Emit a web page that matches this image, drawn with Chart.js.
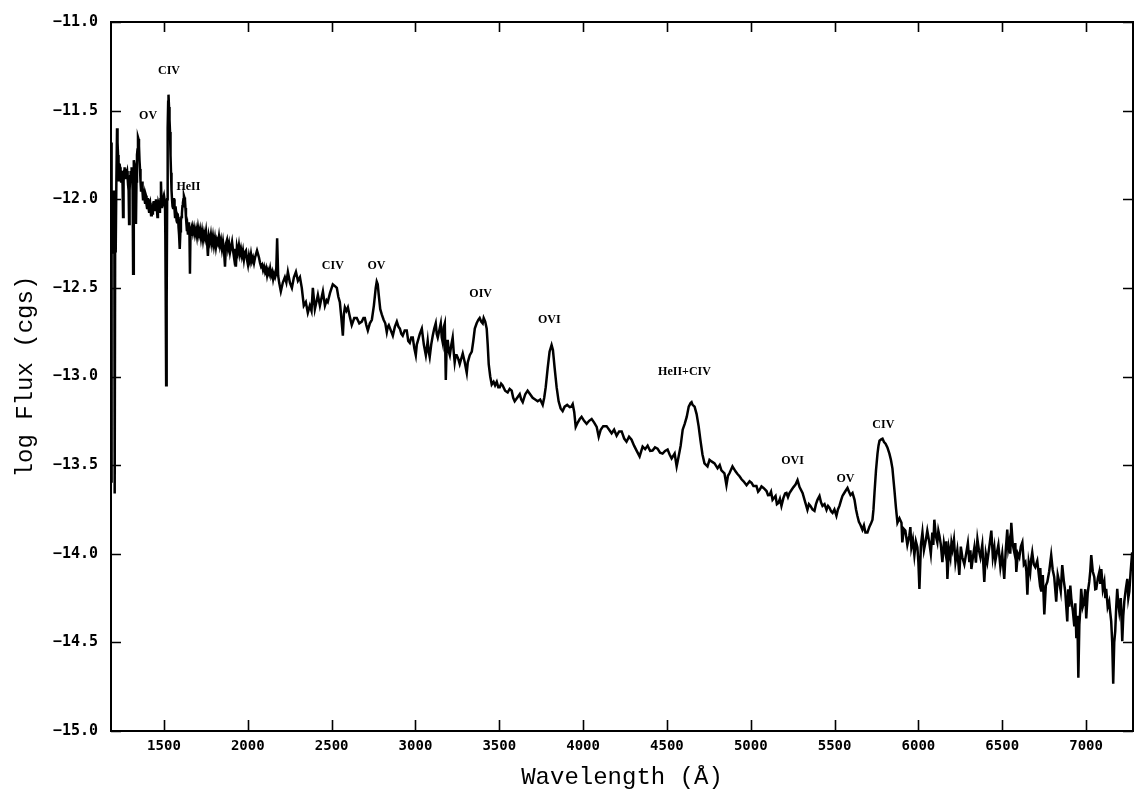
<!DOCTYPE html>
<html><head><meta charset="utf-8">
<script src="https://cdn.jsdelivr.net/npm/chart.js@4"></script>
<style>html,body{margin:0;padding:0;background:#fff}canvas{display:block}</style>
</head><body>
<canvas id="c" width="1134" height="798"></canvas>
<script>
// ---- axes ----
const xRange = [1184, 7280];
const yRange = [-15, -11];
const xTicks = [1500, 2000, 2500, 3000, 3500, 4000, 4500, 5000, 5500, 6000, 6500, 7000];
const yTicks = [-15, -14.5, -14, -13.5, -13, -12.5, -12, -11.5, -11];

// ---- spectrum: [wavelength (Å), log flux] ----
const farUvSpectrum = [
[1184,-11.68],[1186,-13.6],[1189,-12.2],[1193,-12.05],[1197,-12.3],[1201,-11.95],[1204,-12.1],[1206,-13.66],[1209,-12.1],[1212,-12.3],
[1216,-11.9],[1220,-11.6],[1223,-11.68],[1226,-11.75],[1229,-11.9],[1232,-11.85],[1235,-11.8],[1238,-11.82],[1241,-11.88],[1244,-11.9],
[1247,-11.84],[1250,-11.86],[1253,-11.92],[1256,-12.1],[1259,-11.9],[1262,-11.84],[1265,-11.82],[1268,-11.86],[1271,-11.83],[1274,-11.88],
[1277,-11.85],[1280,-11.84],[1283,-11.88],[1286,-11.92],[1289,-11.95],[1292,-12.14],[1295,-11.95],[1298,-11.87],[1301,-11.84],[1304,-11.9],
[1307,-11.82],[1310,-11.85],[1313,-11.95],[1316,-12.42],[1319,-11.9],[1321,-11.78],[1324,-11.8],[1327,-11.85],[1330,-11.92],[1333,-12.14],
[1336,-11.9],[1339,-11.75],[1342,-11.72],[1345,-11.65],[1348,-11.66],[1351,-11.7],[1354,-11.78],[1357,-11.83],[1360,-11.9],[1363,-11.95],
[1366,-11.92],[1369,-11.9],[1372,-11.96],[1375,-12.0],[1378,-11.94],[1381,-11.96],[1384,-12.0],[1387,-12.02],[1390,-11.97],[1393,-11.98],
[1396,-12.03],[1399,-12.05],[1402,-12.0],[1405,-12.0],[1408,-12.05],[1411,-12.07],[1414,-12.03],[1417,-12.02],[1420,-12.06],[1423,-12.09],
[1426,-12.03],[1428,-12.04],[1431,-12.08],[1434,-12.06],[1437,-12.02],[1440,-12.01],[1443,-12.06],[1446,-12.05],[1449,-12.02],[1452,-12.0],
[1455,-12.04],[1458,-12.06],[1461,-12.1],[1464,-12.08],[1467,-12.02],[1470,-12.03],[1473,-12.07],[1476,-12.06],[1479,-12.0],[1482,-11.9],
[1485,-12.0],[1488,-12.05],[1491,-12.02],[1494,-12.04],[1497,-12.01],[1500,-12.03],[1503,-12.0],[1506,-12.02],[1508,-12.2],[1510,-12.5],
[1513,-13.05],[1516,-12.6],[1519,-12.0],[1522,-11.6],[1525,-11.45],[1527,-11.41],[1530,-11.48],[1533,-11.55],[1536,-11.62],[1539,-11.75],
[1542,-11.85],[1545,-11.95],[1548,-12.0],[1551,-12.04],[1554,-12.05],[1557,-12.0],[1560,-12.0],[1563,-12.06],[1566,-12.1],[1569,-12.04],
[1572,-12.07],[1575,-12.12],[1578,-12.13],[1581,-12.08],[1584,-12.1],[1587,-12.16],[1590,-12.2],[1593,-12.24],[1595,-12.28],[1598,-12.18],
[1601,-12.12],[1604,-12.1],[1607,-12.08],[1610,-12.04],[1613,-12.02],[1616,-12.0],[1619,-11.98],[1622,-11.99],[1625,-12.0],[1628,-12.05],
[1631,-12.1],[1634,-12.14],[1637,-12.18],[1640,-12.16],[1643,-12.2],[1646,-12.15],[1649,-12.13],[1652,-12.2],[1655,-12.42],[1658,-12.2]
];
const nearUvSpectrum = [
[1661,-12.17],[1667,-12.15],[1673,-12.19],[1679,-12.16],[1685,-12.2],[1691,-12.17],[1697,-12.21],[1703,-12.16],[1709,-12.2],[1715,-12.17],
[1721,-12.22],[1727,-12.18],[1733,-12.23],[1739,-12.19],[1745,-12.22],[1751,-12.18],[1757,-12.24],[1762,-12.32],[1768,-12.21],[1774,-12.24],
[1780,-12.2],[1786,-12.25],[1792,-12.21],[1798,-12.26],[1804,-12.22],[1810,-12.27],[1816,-12.23],[1822,-12.25],[1828,-12.21],[1834,-12.26],
[1840,-12.23],[1846,-12.28],[1852,-12.24],[1858,-12.29],[1864,-12.38],[1870,-12.25],[1876,-12.23],[1882,-12.28],[1888,-12.25],[1894,-12.3],
[1900,-12.27],[1906,-12.24],[1912,-12.29],[1918,-12.33],[1924,-12.28],[1929,-12.38],[1935,-12.27],[1941,-12.3],[1947,-12.26],[1953,-12.31],
[1959,-12.28],[1965,-12.32],[1971,-12.29],[1977,-12.34],[1983,-12.3],[1989,-12.29],[1995,-12.34],[2001,-12.37],[2007,-12.32],[2013,-12.35],
[2019,-12.31],[2025,-12.35],[2031,-12.33],[2037,-12.36],[2043,-12.33],[2049,-12.31],[2055,-12.29],[2061,-12.31],[2067,-12.33],[2073,-12.36],
[2079,-12.38],[2085,-12.37],[2091,-12.4],[2097,-12.38],[2103,-12.41],[2109,-12.39],[2115,-12.43],[2121,-12.4],[2127,-12.42],[2133,-12.39],
[2139,-12.43],[2145,-12.41],[2151,-12.45],[2157,-12.42],[2163,-12.44],[2169,-12.42],[2175,-12.22],[2181,-12.43],[2187,-12.47],[2197,-12.52],
[2209,-12.47],[2221,-12.44],[2230,-12.47],[2239,-12.41],[2251,-12.47],[2263,-12.5],[2275,-12.44],[2287,-12.41],[2299,-12.46],[2311,-12.44],
[2322,-12.5],[2334,-12.6],[2346,-12.58],[2358,-12.64],[2370,-12.6],[2380,-12.63],[2388,-12.5],[2400,-12.62],[2418,-12.54],[2430,-12.6],
[2448,-12.52],[2460,-12.6],[2470,-12.57]
];
const blueSpectrum = [
[2477,-12.58],[2490,-12.53],[2507,-12.48],[2520,-12.49],[2531,-12.5],[2540,-12.55],[2549,-12.58],[2557,-12.66],[2567,-12.77],[2573,-12.65],
[2579,-12.61],[2588,-12.63],[2597,-12.61],[2608,-12.66],[2620,-12.71],[2635,-12.67],[2650,-12.67],[2665,-12.7],[2680,-12.69],[2690,-12.67],
[2698,-12.67],[2707,-12.71],[2716,-12.74],[2728,-12.7],[2740,-12.68],[2752,-12.6],[2763,-12.5],[2769,-12.465],[2775,-12.48],[2781,-12.54],
[2790,-12.62],[2799,-12.65],[2810,-12.68],[2820,-12.7],[2829,-12.75],[2835,-12.72],[2841,-12.71],[2853,-12.74],[2865,-12.77],[2877,-12.72],
[2889,-12.69],[2899,-12.72],[2907,-12.73],[2916,-12.76],[2924,-12.77],[2936,-12.74],[2948,-12.74],[2957,-12.8],[2966,-12.81],[2975,-12.78],
[2984,-12.78],[2993,-12.84],[3002,-12.88],[3008,-12.82],[3014,-12.8],[3026,-12.76],[3038,-12.73],[3050,-12.82],[3062,-12.88],[3068,-12.84],
[3073,-12.8],[3079,-12.86],[3085,-12.89],[3094,-12.82],[3103,-12.77],[3112,-12.73],[3121,-12.7],[3127,-12.76],[3133,-12.78],[3142,-12.74],
[3151,-12.7],[3157,-12.78],[3163,-12.81],[3169,-12.72],[3175,-12.7],[3181,-13.02],[3187,-12.8],[3193,-12.8],[3199,-12.86],[3205,-12.88],
[3214,-12.82],[3222,-12.78],[3228,-12.86],[3234,-12.92],[3240,-12.88],[3246,-12.88],[3255,-12.9],[3264,-12.93],[3273,-12.9],[3282,-12.87],
[3294,-12.92],[3306,-12.98],[3312,-12.92],[3324,-12.88],[3336,-12.86],[3345,-12.8],[3354,-12.73],[3365,-12.7],[3375,-12.68],[3383,-12.67],
[3392,-12.69],[3401,-12.7],[3407,-12.67],[3416,-12.69],[3425,-12.73],[3431,-12.82],[3437,-12.93],[3446,-13.0],[3455,-13.045],[3466,-13.03],
[3475,-13.05],[3485,-13.03],[3494,-13.06],[3503,-13.06],[3511,-13.04],[3520,-13.05],[3535,-13.08],[3550,-13.09],[3562,-13.07],[3574,-13.08],
[3583,-13.12],[3592,-13.14],[3607,-13.12],[3622,-13.1],[3631,-13.13],[3640,-13.145],[3655,-13.1],[3669,-13.08],[3684,-13.1],[3699,-13.12],
[3714,-13.13],[3729,-13.14],[3744,-13.13],[3759,-13.16],[3768,-13.12],[3777,-13.06],[3789,-12.95],[3800,-12.86],[3812,-12.822],[3820,-12.85],
[3830,-12.95],[3842,-13.06],[3854,-13.14],[3866,-13.18],[3878,-13.195],[3890,-13.17],[3905,-13.16],[3920,-13.173],[3930,-13.17],[3938,-13.156],
[3947,-13.2],[3956,-13.284],[3968,-13.26],[3980,-13.24],[3991,-13.228],[4006,-13.25],[4021,-13.267],[4036,-13.25],[4051,-13.24],[4066,-13.26],
[4081,-13.284],[4093,-13.34]
];
const greenSpectrum = [
[4105,-13.3],[4120,-13.28],[4140,-13.28],[4170,-13.32],[4185,-13.3],[4200,-13.334],[4215,-13.31],[4230,-13.31],[4245,-13.35],[4259,-13.368],
[4274,-13.34],[4289,-13.357],[4304,-13.39],[4319,-13.418],[4337,-13.451],[4355,-13.396],[4370,-13.41],[4385,-13.39],[4400,-13.42],[4414,-13.418],
[4429,-13.4],[4444,-13.407],[4459,-13.43],[4474,-13.435],[4489,-13.42],[4504,-13.412],[4516,-13.44],[4528,-13.462],[4546,-13.435],[4558,-13.507],
[4570,-13.45],[4582,-13.39],[4594,-13.3],[4606,-13.267],[4618,-13.228],[4630,-13.17],[4641,-13.15],[4647,-13.145],[4653,-13.16],[4665,-13.17],
[4677,-13.212],[4689,-13.28],[4700,-13.36],[4712,-13.44],[4724,-13.49],[4742,-13.507],[4754,-13.47],[4766,-13.479],[4784,-13.49],[4802,-13.518],
[4815,-13.5],[4825,-13.529],[4843,-13.546],[4855,-13.613],[4864,-13.56],[4873,-13.546],[4891,-13.507],[4909,-13.535],[4921,-13.55],[4933,-13.563],
[4945,-13.58],[4957,-13.591],[4975,-13.613],[4993,-13.591],[5005,-13.6],[5016,-13.618],[5034,-13.618],[5044,-13.65],[5052,-13.641],[5064,-13.62],
[5076,-13.629],[5094,-13.646],[5103,-13.67],[5112,-13.669],[5121,-13.65],[5130,-13.696],[5148,-13.674],[5156,-13.72],[5165,-13.713],[5174,-13.69],
[5183,-13.73],[5195,-13.685],[5205,-13.66],[5213,-13.657],[5222,-13.68],[5231,-13.657],[5243,-13.64],[5255,-13.624],[5267,-13.61],[5279,-13.585],
[5291,-13.624],[5309,-13.657],[5326,-13.713],[5338,-13.752],[5347,-13.72],[5356,-13.73],[5368,-13.75],[5380,-13.758],[5389,-13.72],[5398,-13.696],
[5410,-13.674],[5419,-13.71],[5428,-13.73],[5440,-13.72],[5452,-13.752],[5461,-13.73],[5470,-13.741],[5479,-13.76],[5488,-13.769],[5499,-13.75],
[5511,-13.786],[5520,-13.75],[5529,-13.73],[5538,-13.7],[5547,-13.674],[5556,-13.66],[5565,-13.646],[5577,-13.629],[5586,-13.65],[5595,-13.669],
[5607,-13.657],[5619,-13.696],[5628,-13.75],[5636,-13.786],[5645,-13.82],[5654,-13.836],[5666,-13.864],[5675,-13.84],[5684,-13.88],[5696,-13.88],
[5708,-13.847],[5717,-13.83],[5726,-13.808],[5732,-13.75],[5738,-13.657],[5747,-13.53],[5756,-13.435],[5762,-13.39],[5768,-13.362],[5778,-13.355],
[5786,-13.351],[5795,-13.37],[5804,-13.379],[5815,-13.4],[5827,-13.435],[5836,-13.47],[5845,-13.518],[5851,-13.58],[5857,-13.641],[5866,-13.74],
[5875,-13.825],[5887,-13.8],[5899,-13.825],[5904,-13.936],[5913,-13.86]
];
const redSpectrum = [
[5922,-13.869],[5934,-13.95],[5946,-13.897],[5952,-13.85],[5958,-13.964],[5967,-13.92],[5976,-14.008],[5985,-13.93],[5994,-13.964],[6000,-14.05],
[6006,-14.198],[6015,-13.95],[6024,-13.88],[6033,-13.98],[6042,-13.936],[6053,-13.87],[6065,-13.936],[6074,-14.0],[6083,-13.88],[6089,-13.95],
[6095,-13.808],[6104,-13.9],[6113,-13.936],[6119,-13.87],[6125,-13.897],[6134,-13.95],[6143,-14.047],[6152,-13.94],[6161,-13.992],[6167,-13.93],
[6173,-14.142],[6182,-13.97],[6191,-14.02],[6197,-13.94],[6203,-13.975],[6212,-13.92],[6221,-14.047],[6232,-13.98],[6244,-14.12],[6253,-13.96],
[6262,-14.02],[6274,-14.06],[6286,-13.992],[6295,-13.94],[6304,-14.047],[6310,-13.98],[6316,-14.086],[6325,-14.02],[6334,-13.964],[6343,-14.05],
[6352,-13.919],[6361,-13.98],[6370,-14.02],[6381,-13.95],[6393,-14.159],[6402,-14.0],[6411,-14.047],[6423,-13.96],[6435,-13.869],[6444,-14.02],
[6453,-13.964],[6459,-14.04],[6465,-14.008],[6477,-13.95],[6489,-14.075],[6500,-14.0],[6512,-14.142],[6521,-13.98],[6530,-13.864],[6536,-13.97],
[6542,-13.936],[6548,-14.0],[6554,-13.825],[6563,-13.95],[6572,-13.992],[6578,-13.94],[6584,-14.103],[6593,-14.0],[6602,-14.02],[6611,-13.96],
[6620,-13.936],[6629,-14.06],[6638,-14.047],[6644,-14.1],[6650,-14.231],[6658,-14.05],[6667,-14.103],[6673,-14.03],[6679,-13.992],[6688,-14.06],
[6697,-14.075],[6709,-14.04],[6721,-14.142],[6727,-14.08],[6733,-14.214],[6742,-14.12],[6751,-14.343],[6760,-14.18],[6769,-14.159],[6780,-14.1],
[6792,-14.008],[6801,-14.09],[6810,-14.131],[6816,-14.2],[6822,-14.27],[6831,-14.12],[6840,-14.159],[6849,-14.21],[6858,-14.064],[6867,-14.15],
[6876,-14.214],[6882,-14.3],[6888,-14.382],[6894,-14.2],[6900,-14.298],[6906,-14.18],[6912,-14.253],[6921,-14.32],[6930,-14.41],[6936,-14.28],
[6942,-14.476],[6948,-14.35],[6954,-14.699],[6960,-14.4],[6965,-14.326],[6971,-14.198],[6980,-14.3],[6989,-14.27],[6995,-14.2],[7001,-14.365],
[7010,-14.22],[7019,-14.159],[7025,-14.1],[7031,-14.008],[7040,-14.1],[7049,-14.131],[7055,-14.2],[7061,-14.198],[7070,-14.14],[7079,-14.103],
[7085,-14.17],[7091,-14.086],[7100,-14.2],[7109,-14.159],[7115,-14.25],[7120,-14.198],[7129,-14.3],[7138,-14.27],[7144,-14.33],[7150,-14.382],
[7156,-14.5],[7162,-14.733],[7168,-14.5],[7174,-14.437],[7180,-14.3],[7186,-14.198],[7192,-14.28],[7198,-14.326],[7207,-14.25],[7216,-14.493],
[7222,-14.35],[7228,-14.27],[7237,-14.2],[7246,-14.142],[7252,-14.25],[7258,-14.214],[7266,-14.1],[7275,-13.992]
];

// ---- line identifications ----
const lineNames      = ['CIV', 'OV', 'HeII', 'CIV', 'OV', 'OIV', 'OVI', 'HeII+CIV', 'OVI', 'OV', 'CIV'];
const lineWavelength = [1530, 1405, 1646, 2507, 2767, 3389, 3798, 4605, 5249, 5565, 5791];
const lineLabelFlux  = [-11.276, -11.53, -11.933, -12.376, -12.376, -12.532, -12.682, -12.975, -13.479, -13.579, -13.273];

const points = [...farUvSpectrum, ...nearUvSpectrum, ...blueSpectrum, ...greenSpectrum, ...redSpectrum]
  .map(([x, y]) => ({x, y}));

const framePlugin = {
  id: 'frame',
  afterDraw(chart) {
    const {ctx, chartArea: a, scales: {x, y}} = chart;
    ctx.save();
    ctx.strokeStyle = '#000';
    ctx.lineWidth = 2;
    ctx.strokeRect(a.left, a.top, a.right - a.left, a.bottom - a.top);
    ctx.lineWidth = 1.6;
    ctx.beginPath();
    x.ticks.forEach(t => {
      const px = Math.round(x.getPixelForValue(t.value)) + 0.5;
      ctx.moveTo(px, a.bottom); ctx.lineTo(px, a.bottom - 11);
      ctx.moveTo(px, a.top); ctx.lineTo(px, a.top + 10);
    });
    y.ticks.forEach(t => {
      const py = Math.round(y.getPixelForValue(t.value)) + 0.5;
      ctx.moveTo(a.left, py); ctx.lineTo(a.left + 10, py);
      ctx.moveTo(a.right, py); ctx.lineTo(a.right - 10, py);
    });
    ctx.stroke();
    ctx.fillStyle = '#000';
    ctx.font = 'bold 12px "Liberation Serif"';
    ctx.textAlign = 'center';
    ctx.textBaseline = 'middle';
    lineNames.forEach((n, i) => {
      ctx.fillText(n, x.getPixelForValue(lineWavelength[i]), y.getPixelForValue(lineLabelFlux[i]));
    });
    ctx.restore();
  }
};

new Chart(document.getElementById('c'), {
  type: 'line',
  data: {
    datasets: [{
      data: points,
      borderColor: '#000',
      borderWidth: 2.5,
      borderJoinStyle: 'miter',
      pointRadius: 0,
      tension: 0,
      fill: false
    }]
  },
  options: {
    responsive: false,
    animation: false,
    devicePixelRatio: 1,
    events: [],
    layout: {padding: {top: 13, right: 1, left: 0, bottom: 0}},
    plugins: {legend: {display: false}, tooltip: {enabled: false}},
    scales: {
      x: {
        type: 'linear',
        min: xRange[0], max: xRange[1],
        grid: {display: false, drawTicks: false},
        border: {display: false},
        afterBuildTicks: s => { s.ticks = xTicks.map(v => ({value: v})); },
        afterFit: s => { s.height = 67; },
        ticks: {
          color: '#000', padding: 7, maxRotation: 0, autoSkip: false,
          font: {family: '"DejaVu Sans Mono"', size: 14, weight: 'bold'},
          callback: v => String(v)
        },
        title: {
          display: true, text: 'Wavelength (Å)', color: '#000',
          font: {family: '"Liberation Mono"', size: 24},
          padding: {top: 0, bottom: 6}
        }
      },
      y: {
        type: 'linear',
        min: yRange[0], max: yRange[1],
        grid: {display: false, drawTicks: false},
        border: {display: false},
        afterBuildTicks: s => { s.ticks = yTicks.map(v => ({value: v})); },
        afterFit: s => { s.width = 111; },
        ticks: {
          color: '#000', padding: 13, autoSkip: false,
          font: {family: '"DejaVu Sans Mono"', size: 15, weight: 'bold'},
          callback: v => v.toFixed(1).replace('-', '\u2212')
        },
        title: {
          display: true, text: 'log Flux (cgs)', color: '#000',
          font: {family: '"Liberation Mono"', size: 24},
          padding: {top: 11, bottom: 0}
        }
      }
    }
  },
  plugins: [framePlugin]
});
</script>
</body></html>
